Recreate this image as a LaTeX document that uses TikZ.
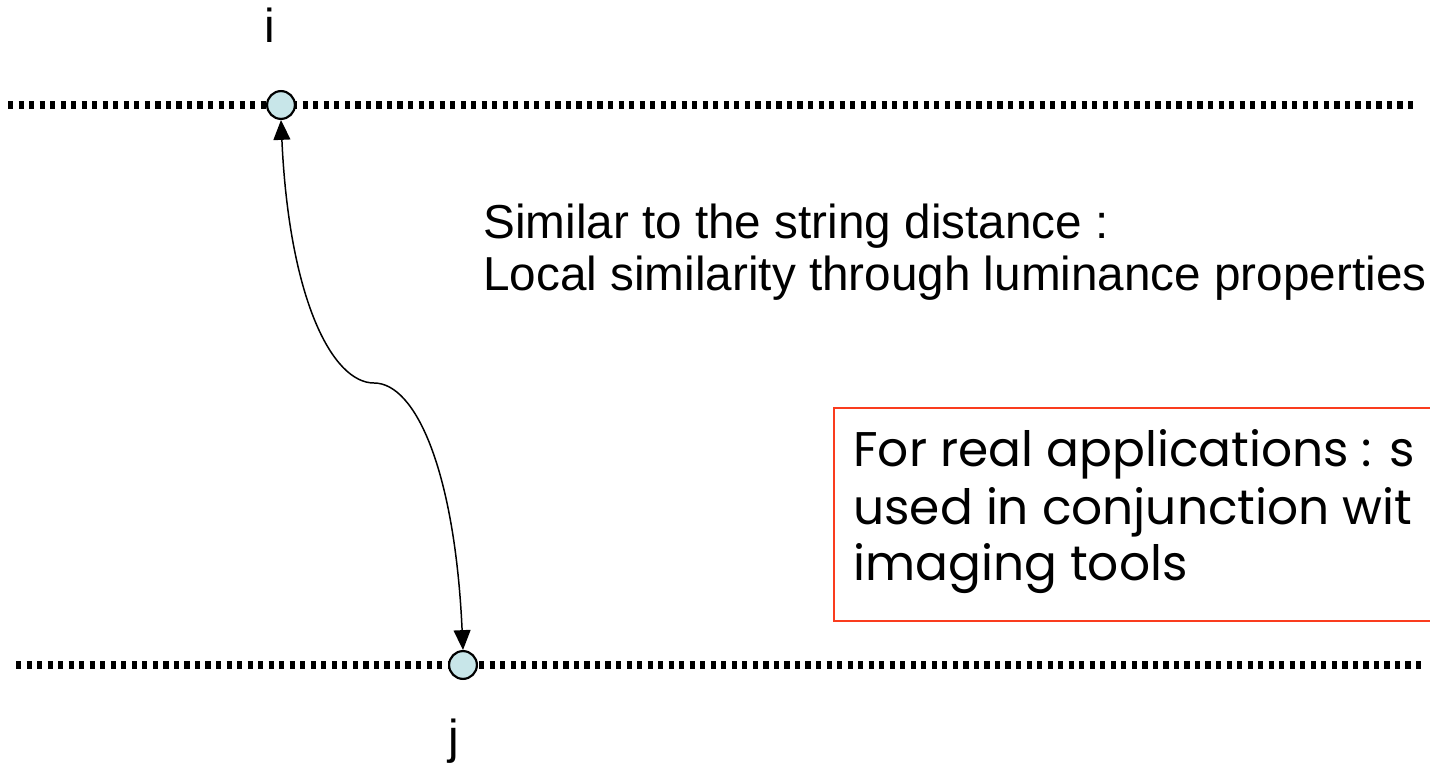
\documentclass[tikz,border=0pt]{standalone}
\usepackage{fontspec}
\setmainfont{Liberation Sans}
\newfontfamily\handfont{Poppins}
\usetikzlibrary{arrows.meta}
\definecolor{nodefill}{RGB}{200,230,233}
\definecolor{boxred}{RGB}{250,60,30}
\begin{document}
\begin{tikzpicture}[x=0.5035pt,y=-0.5035pt,
  dotline/.style={line width=4.2pt, line cap=butt, dash pattern=on 2.6pt off 2.7pt},
  vertex/.style={circle, draw=black, line width=1.1pt, fill=nodefill,
    minimum size=14pt, inner sep=0pt},
  plain/.style={font=\fontsize{24}{28}\selectfont, inner sep=0pt, anchor=base west},
  hand/.style={font=\handfont\fontsize{24.5}{28}\selectfont, inner sep=0pt, anchor=base west},
  link/.style={line width=0.75pt,
    {Triangle[length=10pt,width=8.5pt]}-{Triangle[length=10pt,width=8.5pt]}},
  notebox/.style={draw=boxred, line width=1pt, inner sep=0pt,
    minimum width=352pt, minimum height=107.2pt, anchor=north west}
]
\useasboundingbox (0,0) rectangle (1430,764);
\clip (0,0) rectangle (1430,764);

% the two dotted rows
\coordinate (topL) at (8,105);
\coordinate (topR) at (1416,105);
\coordinate (botL) at (16,665);
\coordinate (botR) at (1423,665);
\draw[dotline] (topL) -- (topR);
\draw[dotline] (botL) -- (botR);

% matched positions
\node[vertex] (ti) at (281,105) {};
\node[vertex] (tj) at (463,665) {};
\node[plain, anchor=base] (li) at (270,43) {i};
\node[plain, anchor=base] (lj) at (454,753) {j};

% the matching link
\coordinate (mid) at (374,383);
\draw[link] (ti.south) .. controls +(8,178) and +(-42,0) .. (mid)
            .. controls +(42,0) and +(-8,-178) .. (tj.north);

% explanation
\node[plain] (s1) at (483,239) {Similar to the string distance :};
\node[plain] (s2) at (483,291) {Local similarity through luminance properties};

% remark box
\node[notebox] (box) at (833,407) {};
\node[hand] (b1) at (853,467) {For real applications : s};
\node[hand] (b2) at (853,524) {used in conjunction wit};
\node[hand] (b3) at (853,580) {imaging tools};
\end{tikzpicture}
\end{document}
